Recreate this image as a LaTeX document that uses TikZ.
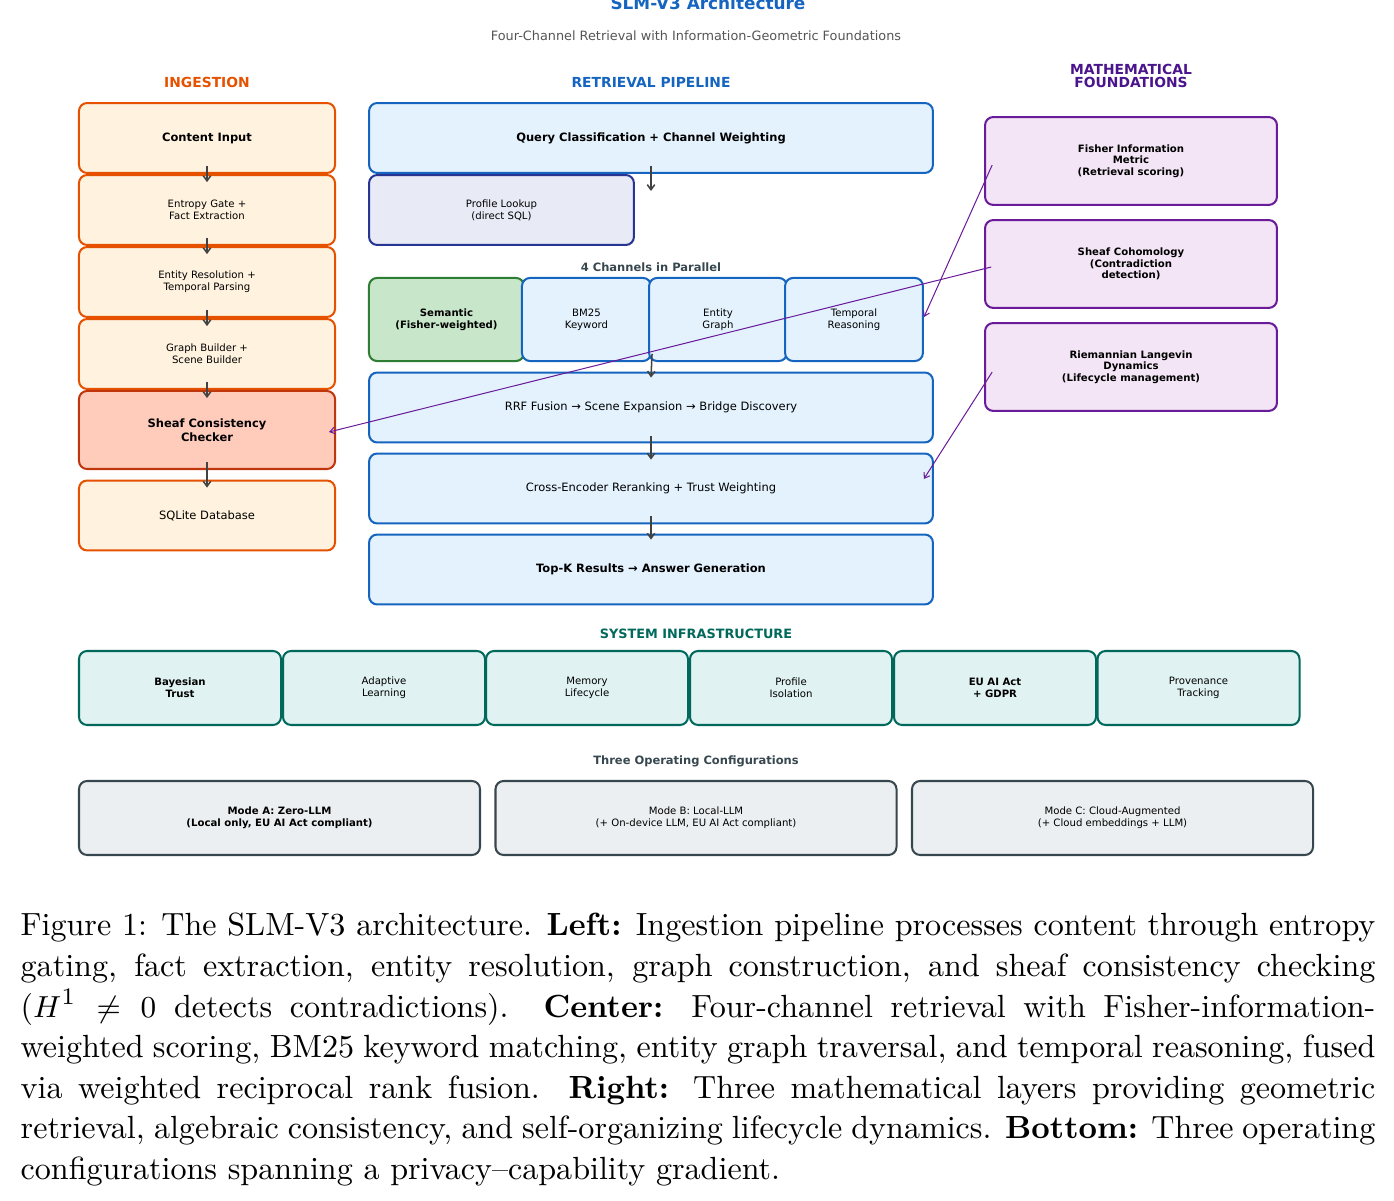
\documentclass[tikz,border=0pt]{standalone}
\usepackage{fontspec}
\usepackage{amsmath}
\usepackage{tikz}
\usetikzlibrary{arrows.meta,positioning,calc}
\newfontfamily\dvsans{DejaVu Sans}
\definecolor{IngBorder}{RGB}{230,81,0}
\definecolor{IngFill}{RGB}{255,243,224}
\definecolor{ChkBorder}{RGB}{191,54,12}
\definecolor{ChkFill}{RGB}{255,204,188}
\definecolor{RetBorder}{RGB}{21,101,192}
\definecolor{RetFill}{RGB}{227,242,253}
\definecolor{ProBorder}{RGB}{40,53,147}
\definecolor{ProFill}{RGB}{232,234,246}
\definecolor{SemBorder}{RGB}{46,125,50}
\definecolor{SemFill}{RGB}{200,230,201}
\definecolor{MathBorder}{RGB}{106,27,154}
\definecolor{MathFill}{RGB}{243,229,245}
\definecolor{MathHead}{RGB}{74,20,140}
\definecolor{SysBorder}{RGB}{0,105,92}
\definecolor{SysFill}{RGB}{224,242,241}
\definecolor{CfgBorder}{RGB}{55,71,79}
\definecolor{CfgFill}{RGB}{236,239,241}
\definecolor{ArrowGray}{RGB}{66,66,66}
\definecolor{SubGray}{RGB}{85,85,85}

\begin{document}
\begin{tikzpicture}[
      x=0.296pt,y=-0.296pt,
      txtS/.style={font=\dvsans\fontsize{3}{3.55}\selectfont},
      txtL/.style={font=\dvsans\fontsize{3.4}{4.1}\selectfont},
      txtSB/.style={font=\dvsans\fontsize{3}{3.45}\selectfont\bfseries},
      txtLB/.style={font=\dvsans\fontsize{3.4}{4.1}\selectfont\bfseries},
      hd/.style={font=\dvsans\fontsize{4.1}{3.85}\selectfont\bfseries,align=center,inner sep=0pt},
      inNode/.style={draw=IngBorder,fill=IngFill,rounded corners=2.4pt,line width=0.6pt,
                     minimum width=75.8pt,minimum height=20.7pt,align=center,txtS},
      chkNode/.style={draw=ChkBorder,fill=ChkFill,rounded corners=2.4pt,line width=0.6pt,
                     minimum width=75.8pt,minimum height=23.1pt,align=center,txtLB},
      rtNode/.style={draw=RetBorder,fill=RetFill,rounded corners=2.4pt,line width=0.6pt,
                     minimum width=166.9pt,minimum height=20.7pt,align=center,txtL},
      chNode/.style={draw=RetBorder,fill=RetFill,rounded corners=2.4pt,line width=0.6pt,
                     minimum height=24.6pt,align=center,txtS},
      mfNode/.style={draw=MathBorder,fill=MathFill,rounded corners=2.4pt,line width=0.6pt,
                     minimum width=86.4pt,minimum height=26pt,align=center,txtSB},
      sysNode/.style={draw=SysBorder,fill=SysFill,rounded corners=2.4pt,line width=0.6pt,
                     minimum width=59.8pt,minimum height=21.9pt,align=center,txtS},
      cfgNode/.style={draw=CfgBorder,fill=CfgFill,rounded corners=2.4pt,line width=0.6pt,
                     minimum width=118.7pt,minimum height=21.9pt,align=center,txtS},
      ar/.style={-{Straight Barb[length=1.5pt,width=2.2pt]},line width=0.45pt,color=ArrowGray},
      mar/.style={-{Straight Barb[length=1.5pt,width=2pt]},line width=0.3pt,color=MathBorder}
    ]
    \useasboundingbox (0,0) rectangle (1394,1201);

    % Title
    \node(title)[anchor=base,font=\dvsans\fontsize{5}{6}\selectfont\bfseries,text=RetBorder,inner sep=0pt] at (708,9.5) {SLM-V3 Architecture};
    \node(subtitle)[anchor=base,font=\dvsans\fontsize{3.8}{4.6}\selectfont,text=SubGray,inner sep=0pt] at (696,41) {Four-Channel Retrieval with Information-Geometric Foundations};

    % Column headings
    \node(hIng)[hd,text=IngBorder] at (207,82) {INGESTION};
    \node(hRet)[hd,text=RetBorder] at (651,82) {RETRIEVAL PIPELINE};
    \node(hMath)[hd,text=MathHead] at (1131,75.5) {MATHEMATICAL\\FOUNDATIONS};

    % Left: ingestion pipeline
    \node(in1)[inNode,txtLB] at (207,138) {Content Input};
    \node(in2)[inNode] at (207,210) {Entropy Gate +\\Fact Extraction};
    \node(in3)[inNode] at (207,282) {Entity Resolution +\\Temporal Parsing};
    \node(in4)[inNode] at (207,354) {Graph Builder +\\Scene Builder};
    \node(in5)[chkNode] at (207,430) {Sheaf Consistency\\Checker};
    \node(in6)[inNode,txtL] at (207,515.5) {SQLite Database};

    \draw[ar] ([yshift=2.4pt]in1.south) -- ([yshift=-2.4pt]in2.north);
    \draw[ar] ([yshift=2.4pt]in2.south) -- ([yshift=-2.4pt]in3.north);
    \draw[ar] ([yshift=2.4pt]in3.south) -- ([yshift=-2.4pt]in4.north);
    \draw[ar] ([yshift=2.4pt]in4.south) -- ([yshift=-2.4pt]in5.north);
    \draw[ar] ([yshift=2.4pt]in5.south) -- ([yshift=-2.4pt]in6.north);

    % Center: retrieval pipeline
    \node(query)[rtNode,txtLB] at (651,138) {Query Classification + Channel Weighting};
    \node(profile)[rtNode,draw=ProBorder,fill=ProFill,minimum width=78.4pt,txtS] at (501.5,210) {Profile Lookup\\(direct SQL)};
    \coordinate(qEnd) at (651,191);
    \draw[ar] ([yshift=2.4pt]query.south) -- (qEnd);

    \node(hCh)[font=\dvsans\fontsize{3.4}{4.1}\selectfont\bfseries,text=CfgBorder,inner sep=0pt] at (651,267) {4 Channels in Parallel};
    \node(semantic)[chNode,draw=SemBorder,fill=SemFill,minimum width=45.9pt,txtSB] at (446.5,319.5) {Semantic\\(Fisher-weighted)};
    \node(bm25)[chNode,minimum width=38.2pt] at (586.5,319.5) {BM25\\Keyword};
    \node(entity)[chNode,minimum width=40.8pt] at (718,319.5) {Entity\\Graph};
    \node(temporal)[chNode,minimum width=40.8pt] at (854,319.5) {Temporal\\Reasoning};

    \node(rrf)[rtNode] at (651,407.5) {RRF Fusion \textrightarrow{} Scene Expansion \textrightarrow{} Bridge Discovery};
    \node(rerank)[rtNode] at (651,488.5) {Cross-Encoder Reranking + Trust Weighting};
    \node(topk)[rtNode,txtLB] at (651,569.5) {Top-K Results \textrightarrow{} Answer Generation};

    \draw[ar] ([yshift=2.4pt]bm25.south east) -- ([yshift=-1.8pt]rrf.north);
    \draw[ar] ([yshift=2.1pt]rrf.south) -- ([yshift=-2.1pt]rerank.north);
    \draw[ar] ([yshift=2.4pt]rerank.south) -- ([yshift=-1.8pt]topk.north);

    % Right: mathematical foundations
    \node(fisher)[mfNode] at (1131,161) {Fisher Information\\Metric\\(Retrieval scoring)};
    \node(sheaf)[mfNode] at (1131,264) {Sheaf Cohomology\\(Contradiction\\detection)};
    \node(langevin)[mfNode] at (1131,367) {Riemannian Langevin\\Dynamics\\(Lifecycle management)};

    \draw[mar] ([xshift=2.4pt,yshift=-1.2pt]fisher.west) -- ([yshift=0.7pt]temporal.east);
    \draw[mar] ([xshift=2.1pt,yshift=-0.9pt]sheaf.west) -- ([xshift=-2.1pt,yshift=-0.6pt]in5.east);
    \draw[mar] ([xshift=2.4pt,yshift=-1.5pt]langevin.west) -- ([xshift=-3pt,yshift=2.8pt]rerank.east);

    % Bottom: system infrastructure
    \node(hSys)[font=\dvsans\fontsize{3.8}{4.6}\selectfont\bfseries,text=SysBorder,inner sep=0pt] at (696,634) {SYSTEM INFRASTRUCTURE};
    \node(sys1)[sysNode,txtSB] at (180,688) {Bayesian\\Trust};
    \node(sys2)[sysNode] at (384,688) {Adaptive\\Learning};
    \node(sys3)[sysNode] at (587,688) {Memory\\Lifecycle};
    \node(sys4)[sysNode] at (791,688) {Profile\\Isolation};
    \node(sys5)[sysNode,txtSB] at (995,688) {EU AI Act\\+ GDPR};
    \node(sys6)[sysNode] at (1198.5,688) {Provenance\\Tracking};

    % Operating configurations
    \node(hCfg)[font=\dvsans\fontsize{3.4}{4.1}\selectfont\bfseries,text=CfgBorder,inner sep=0pt] at (696,761) {Three Operating Configurations};
    \node(modeA)[cfgNode,txtSB] at (279.5,818) {Mode A: Zero-LLM\\(Local only, EU AI Act compliant)};
    \node(modeB)[cfgNode] at (696,818) {Mode B: Local-LLM\\(+ On-device LLM, EU AI Act compliant)};
    \node(modeC)[cfgNode] at (1112.5,818) {Mode C: Cloud-Augmented\\(+ Cloud embeddings + LLM)};

    % Caption
    \node(caption)[anchor=base west,text width=401pt,align=justify,inner sep=0pt,font=\fontsize{9.5}{12}\selectfont] at (20,936)
      {Figure 1: The SLM-V3 architecture. \textbf{Left:} Ingestion pipeline processes content through \mbox{entropy}\linebreak
       gating, fact extraction, entity resolution, graph construction, and sheaf consistency \mbox{checking}\linebreak
       ($H^1 \neq 0$ detects contradictions). \textbf{Center:} Four-channel retrieval with Fisher-information-\linebreak
       weighted scoring, BM25 keyword matching, entity graph traversal, and temporal reasoning, \mbox{fused}\linebreak
       via weighted reciprocal rank fusion. \textbf{Right:} Three mathematical layers providing \mbox{geometric}\linebreak
       retrieval, algebraic consistency, and self-organizing lifecycle dynamics. \textbf{Bottom:} Three \mbox{operating}\linebreak
       configurations spanning a privacy--capability gradient.};
  \end{tikzpicture}
\end{document}
